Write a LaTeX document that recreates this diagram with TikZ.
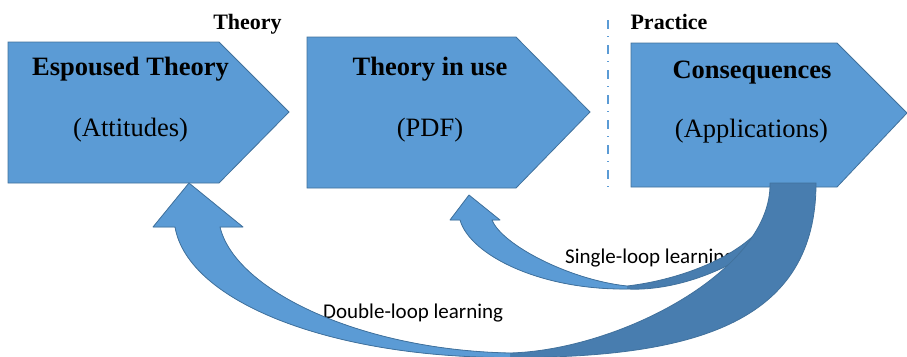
\documentclass[tikz,border=0pt]{standalone}
\usepackage{fontspec}
\setmainfont{Liberation Serif}
\newfontfamily\calibrifont{Carlito}
\definecolor{fillblue}{HTML}{5B9BD5}
\definecolor{edgeblue}{HTML}{41719C}
\definecolor{shadeblue}{HTML}{487DAF}
\newcommand{\singleband}{(460,220) -- (450,220) -- (469,195) -- (500,220) -- (492,220)
  .. controls (502,245) and (570,280) .. (627,286)
  .. controls (680,280) and (750,255) .. (772,212)
  -- (785,222)
  .. controls (760,255) and (690,292) .. (627,289)
  .. controls (540,290) and (470,255) .. (460,220)
  -- cycle}
\newcommand{\doubleband}{(175,227) -- (153,227) -- (189,183) -- (243,227) -- (220,227)
  .. controls (235,290) and (360,350) .. (510,353)
  .. controls (620,350) and (772,270) .. (770,183)
  -- (816,183)
  .. controls (816,320) and (700,358) .. (510,357.5)
  .. controls (332,358) and (188,302) .. (175,227)
  -- cycle}
\begin{document}
\begin{tikzpicture}[x=1bp,y=-1bp,
  pent/.style={fill=fillblue,draw=edgeblue,line width=0.8bp,line join=miter},
  boxtitle/.style={anchor=base,inner sep=0pt,font=\fontsize{26.5bp}{30bp}\selectfont\bfseries},
  boxsub/.style={anchor=base,inner sep=0pt,font=\fontsize{26.5bp}{30bp}\selectfont},
  zone/.style={anchor=base,inner sep=0pt,font=\fontsize{22bp}{26bp}\selectfont\bfseries},
  looplabel/.style={anchor=base west,inner sep=0pt,font=\calibrifont\fontsize{21bp}{25bp}\selectfont},
  bandedge/.style={draw=edgeblue,line width=0.8bp,line join=round},
  divider/.style={draw=fillblue,line width=1.6bp,dash pattern=on 9bp off 7bp on 1.3bp off 7.7bp}
]
\useasboundingbox (0,0) rectangle (907,356);

% pentagon boxes
\path[pent] (8,42) -- (219,42) -- (289,112) -- (219,183) -- (8,183) -- cycle;
\path[pent] (307,37) -- (516,37) -- (590,112) -- (516,188) -- (307,188) -- cycle;
\path[pent] (631,43) -- (837,43) -- (907,113) -- (837,187) -- (631,187) -- cycle;

\node[boxtitle] (espoused) at (130.5,75) {Espoused Theory};
\node[boxsub] (attitudes) at (130.5,136) {(Attitudes)};
\node[boxtitle] (inuse) at (430,75) {Theory in use};
\node[boxsub] (pdf) at (430,136) {(PDF)};
\node[boxtitle] (conseq) at (752,78) {Consequences};
\node[boxsub] (applic) at (751.5,137) {(Applications)};

% zone labels and divider
\node[zone] (theorylbl) at (247.5,29) {Theory};
\node[zone] (practicelbl) at (669,29) {Practice};
\coordinate (divtop) at (608,20);
\coordinate (divbot) at (608,190);
\draw[divider] (divtop) -- (divbot);

% loop labels
\node[looplabel] (singlelbl) at (565,263) {Single-loop learning};
\node[looplabel] (doublelbl) at (323,318) {Double-loop learning};

% single-loop curved arrow
\fill[shadeblue] \singleband;
\begin{scope}
  \clip (0,0) rectangle (627,356);
  \fill[fillblue] \singleband;
\end{scope}
\path[bandedge] \singleband;

% double-loop curved arrow
\fill[shadeblue] \doubleband;
\begin{scope}
  \clip (0,0) rectangle (510,356);
  \fill[fillblue] \doubleband;
\end{scope}
\path[bandedge] \doubleband;
\end{tikzpicture}
\end{document}
